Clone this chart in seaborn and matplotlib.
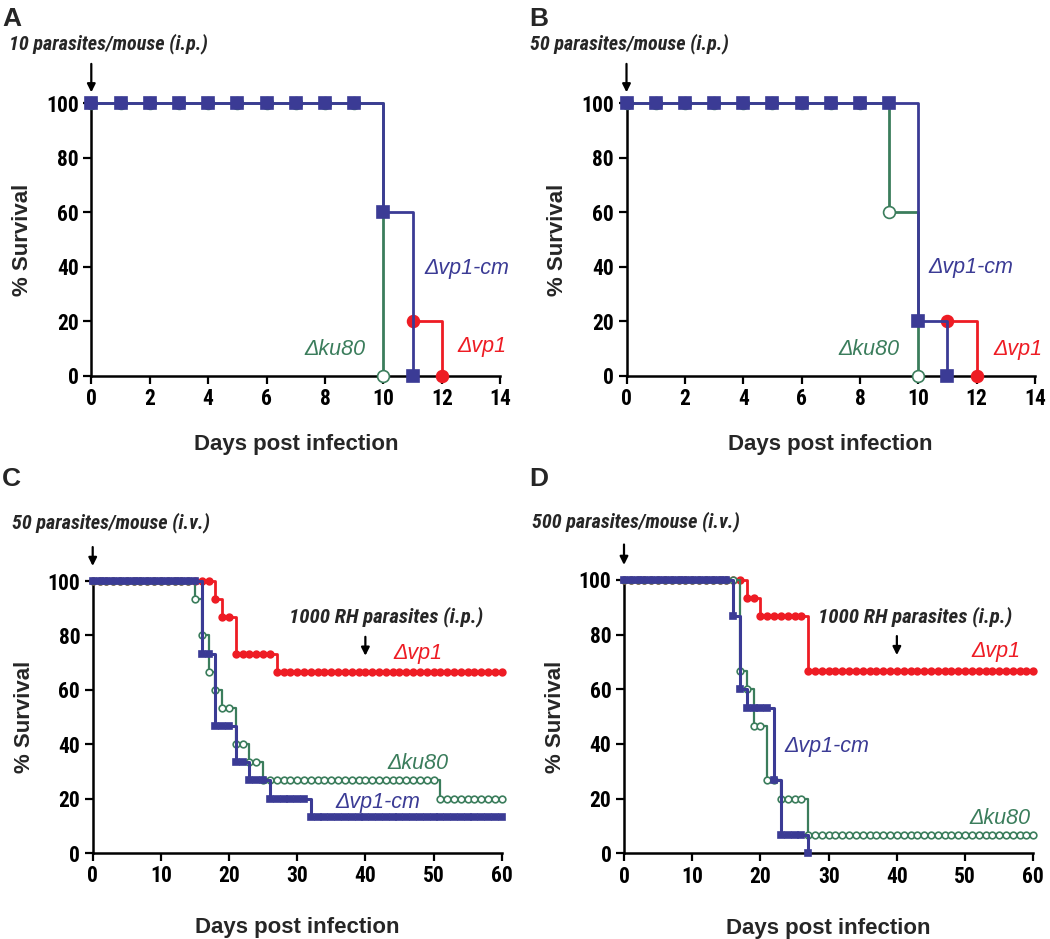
import matplotlib
matplotlib.use("Agg")
import matplotlib.pyplot as plt
import seaborn as sns
import pandas as pd

# ---------------- data ----------------
# Panel A: 10 parasites/mouse (i.p.)
A_cm_days = [0, 1, 2, 3, 4, 5, 6, 7, 8, 9, 10, 11]
A_cm_surv = [100, 100, 100, 100, 100, 100, 100, 100, 100, 100, 60, 0]
A_ku_days = [0, 1, 2, 3, 4, 5, 6, 7, 8, 9, 10]
A_ku_surv = [100, 100, 100, 100, 100, 100, 100, 100, 100, 100, 0]
A_vp_days = [11, 12]
A_vp_surv = [20, 0]

# Panel B: 50 parasites/mouse (i.p.)
B_cm_days = [0, 1, 2, 3, 4, 5, 6, 7, 8, 9, 10, 11]
B_cm_surv = [100, 100, 100, 100, 100, 100, 100, 100, 100, 100, 20, 0]
B_ku_days = [0, 1, 2, 3, 4, 5, 6, 7, 8, 9, 10]
B_ku_surv = [100, 100, 100, 100, 100, 100, 100, 100, 100, 60, 0]
B_vp_days = [11, 12]
B_vp_surv = [20, 0]

# Panel C: 50 parasites/mouse (i.v.), days 0..60
C_days = list(range(0, 61))
C_vp_surv = [100, 100, 100, 100, 100, 100, 100, 100, 100, 100,
             100, 100, 100, 100, 100, 100, 100, 100, 93.3, 86.7,
             86.7, 73.3, 73.3, 73.3, 73.3, 73.3, 73.3, 66.7, 66.7, 66.7,
             66.7, 66.7, 66.7, 66.7, 66.7, 66.7, 66.7, 66.7, 66.7, 66.7,
             66.7, 66.7, 66.7, 66.7, 66.7, 66.7, 66.7, 66.7, 66.7, 66.7,
             66.7, 66.7, 66.7, 66.7, 66.7, 66.7, 66.7, 66.7, 66.7, 66.7,
             66.7]
C_cm_surv = [100, 100, 100, 100, 100, 100, 100, 100, 100, 100,
             100, 100, 100, 100, 100, 100, 73.3, 73.3, 46.7, 46.7,
             46.7, 33.3, 33.3, 26.7, 26.7, 26.7, 20, 20, 20, 20,
             20, 20, 13.3, 13.3, 13.3, 13.3, 13.3, 13.3, 13.3, 13.3,
             13.3, 13.3, 13.3, 13.3, 13.3, 13.3, 13.3, 13.3, 13.3, 13.3,
             13.3, 13.3, 13.3, 13.3, 13.3, 13.3, 13.3, 13.3, 13.3, 13.3,
             13.3]
C_ku_surv = [100, 100, 100, 100, 100, 100, 100, 100, 100, 100,
             100, 100, 100, 100, 100, 93.3, 80, 66.7, 60, 53.3,
             53.3, 40, 40, 33.3, 33.3, 26.7, 26.7, 26.7, 26.7, 26.7,
             26.7, 26.7, 26.7, 26.7, 26.7, 26.7, 26.7, 26.7, 26.7, 26.7,
             26.7, 26.7, 26.7, 26.7, 26.7, 26.7, 26.7, 26.7, 26.7, 26.7,
             26.7, 20, 20, 20, 20, 20, 20, 20, 20, 20,
             20]

# Panel D: 500 parasites/mouse (i.v.)
D_days = list(range(0, 61))
D_vp_surv = [100, 100, 100, 100, 100, 100, 100, 100, 100, 100,
             100, 100, 100, 100, 100, 100, 100, 100, 93.3, 93.3,
             86.7, 86.7, 86.7, 86.7, 86.7, 86.7, 86.7, 66.7, 66.7, 66.7,
             66.7, 66.7, 66.7, 66.7, 66.7, 66.7, 66.7, 66.7, 66.7, 66.7,
             66.7, 66.7, 66.7, 66.7, 66.7, 66.7, 66.7, 66.7, 66.7, 66.7,
             66.7, 66.7, 66.7, 66.7, 66.7, 66.7, 66.7, 66.7, 66.7, 66.7,
             66.7]
D_cm_days = list(range(0, 28))
D_cm_surv = [100, 100, 100, 100, 100, 100, 100, 100, 100, 100,
             100, 100, 100, 100, 100, 100, 86.7, 60, 53.3, 53.3,
             53.3, 53.3, 26.7, 6.7, 6.7, 6.7, 6.7, 0]
D_ku_surv = [100, 100, 100, 100, 100, 100, 100, 100, 100, 100,
             100, 100, 100, 100, 100, 100, 100, 66.7, 60, 46.7,
             46.7, 26.7, 26.7, 20, 20, 20, 20, 6.7, 6.7, 6.7,
             6.7, 6.7, 6.7, 6.7, 6.7, 6.7, 6.7, 6.7, 6.7, 6.7,
             6.7, 6.7, 6.7, 6.7, 6.7, 6.7, 6.7, 6.7, 6.7, 6.7,
             6.7, 6.7, 6.7, 6.7, 6.7, 6.7, 6.7, 6.7, 6.7, 6.7,
             6.7]

# ---------------- style ----------------
sns.set_style("ticks")
plt.rcParams["font.family"] = ["Liberation Sans", "DejaVu Sans"]

BLUE = "#3b3b95"
GREEN = "#3b7d5c"
RED = "#ee1c24"
NARROW = ["Roboto Condensed", "Fira Sans Condensed", "Liberation Sans", "DejaVu Sans"]
SANS = ["Liberation Sans", "DejaVu Sans"]

fig = plt.figure(figsize=(10.5, 9.39), dpi=100)

W, H = 1050, 939
def add_ax(x0, x1, ytop, ybot):
    return fig.add_axes([x0 / W, 1 - ybot / H, (x1 - x0) / W, (ybot - ytop) / H])

axA = add_ax(91.3, 500.3, 103.3, 375.5)
axB = add_ax(626.5, 1035.0, 103.3, 375.5)
axC = add_ax(92.7, 501.7, 581.0, 853.0)
axD = add_ax(624.0, 1033.3, 580.0, 853.3)


def step(ax, days, surv, color, marker, ms, mfc, lw, z):
    df = pd.DataFrame({"day": days, "surv": surv})
    sns.lineplot(data=df, x="day", y="surv", ax=ax, color=color,
                 drawstyle="steps-post", marker=marker, markersize=ms,
                 markerfacecolor=mfc, markeredgecolor=color,
                 markeredgewidth=1.2, linewidth=lw, clip_on=False,
                 zorder=z, errorbar=None, estimator=None, sort=False)


def style_axis(ax, xmax, xstep, xlab_y):
    ax.set_xlim(0, xmax)
    ax.set_ylim(0, 100)
    ax.set_xticks(range(0, xmax + 1, xstep))
    ax.set_yticks([0, 20, 40, 60, 80, 100])
    for s in ["top", "right"]:
        ax.spines[s].set_visible(False)
    for s in ["left", "bottom"]:
        ax.spines[s].set_linewidth(1.8)
        ax.spines[s].set_color("black")
        ax.spines[s].set_zorder(1)
    ax.tick_params(direction="out", length=6, width=1.6, colors="black", pad=3)
    for lab in ax.get_xticklabels() + ax.get_yticklabels():
        lab.set_family(NARROW)
        lab.set_fontweight("bold")
        lab.set_fontsize(15.5)
    ax.set_xlabel("Days post infection", fontsize=16, fontweight="bold", family=SANS)
    ax.set_ylabel("% Survival", fontsize=16, fontweight="bold", family=SANS)
    ax.xaxis.set_label_coords(0.5, xlab_y)
    ax.yaxis.set_label_coords(-0.142, 0.5)
    ax.patch.set_alpha(0)


def annotate_dose(ax, text, tx, ty, ay0, ay1):
    ax.text(tx, ty, text, fontsize=14.5, fontweight="bold", fontstyle="italic",
            family=NARROW, ha="left", va="center", clip_on=False)
    ax.annotate("", xy=(0, ay1), xytext=(0, ay0),
                arrowprops=dict(arrowstyle="-|>", color="black", lw=1.6,
                                mutation_scale=12),
                annotation_clip=False)


def label(ax, text, x, y, color):
    ax.text(x, y, text, fontsize=15.5, fontstyle="italic", color=color,
            family=SANS, ha="center", va="center")


# Panel A
step(axA, A_vp_days, A_vp_surv, RED, "o", 8.5, RED, 2.0, 3)
step(axA, A_ku_days, A_ku_surv, GREEN, "o", 8.5, "white", 2.0, 4)
step(axA, A_cm_days, A_cm_surv, BLUE, "s", 8.5, BLUE, 2.0, 5)
style_axis(axA, 14, 2, -0.215)
annotate_dose(axA, "10 parasites/mouse (i.p.)", -2.82, 122, 115.5, 103)
label(axA, "\u0394vp1-cm", 12.87, 39.2, BLUE)
label(axA, "\u0394vp1", 13.38, 10.5, RED)
label(axA, "\u0394ku80", 8.33, 9.4, GREEN)

# Panel B
step(axB, B_vp_days, B_vp_surv, RED, "o", 8.5, RED, 2.0, 3)
step(axB, B_ku_days, B_ku_surv, GREEN, "o", 8.5, "white", 2.0, 4)
step(axB, B_cm_days, B_cm_surv, BLUE, "s", 8.5, BLUE, 2.0, 5)
style_axis(axB, 14, 2, -0.215)
annotate_dose(axB, "50 parasites/mouse (i.p.)", -3.3, 122, 115.5, 103)
label(axB, "\u0394vp1-cm", 11.8, 39.5, BLUE)
label(axB, "\u0394vp1", 13.4, 9.4, RED)
label(axB, "\u0394ku80", 8.3, 9.4, GREEN)

# Panel C
step(axC, C_days, C_vp_surv, RED, "o", 4.8, RED, 2.0, 3)
step(axC, C_days, C_ku_surv, GREEN, "o", 4.8, "white", 1.6, 4)
step(axC, C_days, C_cm_surv, BLUE, "s", 4.8, BLUE, 2.2, 5)
style_axis(axC, 60, 10, -0.235)
annotate_dose(axC, "50 parasites/mouse (i.v.)", -11.8, 121.5, 113.5, 104.5)
axC.text(43, 86.7, "1000 RH parasites (i.p.)", fontsize=15, fontweight="bold",
         fontstyle="italic", family=NARROW, ha="center", va="center")
axC.annotate("", xy=(40, 71.5), xytext=(40, 80.5),
             arrowprops=dict(arrowstyle="-|>", color="black", lw=1.6, mutation_scale=12))
label(axC, "\u0394vp1", 47.7, 73.5, RED)
label(axC, "\u0394ku80", 47.7, 33, GREEN)
label(axC, "\u0394vp1-cm", 41.8, 18.4, BLUE)

# Panel D
step(axD, D_days, D_vp_surv, RED, "o", 4.8, RED, 2.0, 3)
step(axD, D_days, D_ku_surv, GREEN, "o", 4.8, "white", 1.6, 4)
step(axD, D_cm_days, D_cm_surv, BLUE, "s", 4.8, BLUE, 2.2, 5)
style_axis(axD, 60, 10, -0.235)
annotate_dose(axD, "500 parasites/mouse (i.v.)", -13.5, 121.5, 114, 104.5)
axD.text(42.6, 86.7, "1000 RH parasites (i.p.)", fontsize=15, fontweight="bold",
         fontstyle="italic", family=NARROW, ha="center", va="center")
axD.annotate("", xy=(40, 71.5), xytext=(40, 80.5),
             arrowprops=dict(arrowstyle="-|>", color="black", lw=1.6, mutation_scale=12))
label(axD, "\u0394vp1", 54.6, 73.8, RED)
label(axD, "\u0394vp1-cm", 29.7, 39, BLUE)
label(axD, "\u0394ku80", 55.1, 12.9, GREEN)

# Panel letters
for letter, x, y in [("A", 2, 7), ("B", 529, 7), ("C", 2, 467), ("D", 529, 467)]:
    fig.text(x / W, 1 - y / H, letter, fontsize=19, fontweight="bold",
             family=SANS, ha="left", va="top")

fig.savefig("out.png", dpi=100)
